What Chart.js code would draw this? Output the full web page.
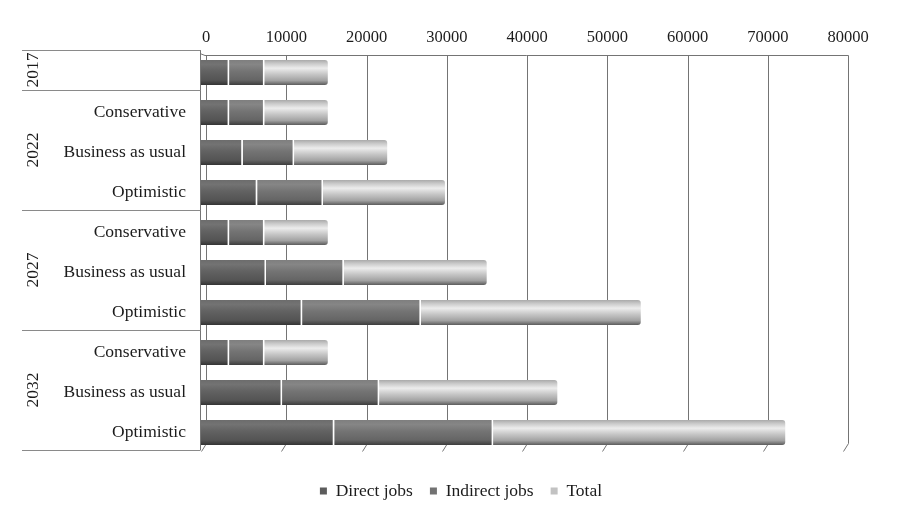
<!DOCTYPE html>
<html>
<head>
<meta charset="utf-8">
<script src="https://cdn.jsdelivr.net/npm/chart.js@4/dist/chart.umd.min.js"></script>
<style>
  html, body { margin: 0; padding: 0; background: #ffffff; }
  #wrap { width: 903px; height: 515px; }
</style>
</head>
<body>
<div id="wrap"><canvas id="jobs" width="903" height="515"></canvas></div>
<script>
// Scenario rows (top to bottom) and the year each block of rows belongs to
const scenarios = ['', 'Conservative', 'Business as usual', 'Optimistic',
                   'Conservative', 'Business as usual', 'Optimistic',
                   'Conservative', 'Business as usual', 'Optimistic'];
const years = ['2017', '2022', '2027', '2032'];
const yearSpans = [1, 3, 3, 3];

// Jobs per row
const directJobs   = [3500, 3500, 5200, 7000, 3500,  8100, 12600, 3500, 10100, 16600];
const indirectJobs = [4400, 4400, 6400, 8200, 4400,  9700, 14800, 4400, 12100, 19800];
const totalJobs    = [7900, 7900, 11600, 15200, 7900, 17800, 27400, 7900, 22200, 36400];

// Value axis ticks
const xTicks = [0, 10000, 20000, 30000, 40000, 50000, 60000, 70000, 80000];

const SERIF = "'Liberation Serif', 'Times New Roman', serif";
const TEXT = '#1c1c1c';
const LINE = '#747474';
const DEPTH = 5;          // oblique offset of the back wall
const BAR_FRAC = 0.63;

// Cylinder-like shading for each series
const shades = {
  direct:   { solid: '#5c5c5c', stops: [[0, '#6c6c6c'], [0.18, '#737373'], [0.45, '#626262'], [0.8, '#545454'], [1, '#333333']] },
  indirect: { solid: '#727272', stops: [[0, '#7e7e7e'], [0.18, '#868686'], [0.45, '#747474'], [0.8, '#656565'], [1, '#3c3c3c']] },
  total:    { solid: '#c2c2c2', stops: [[0, '#a9a9a9'], [0.15, '#cbcbcb'], [0.33, '#ececec'], [0.55, '#c9c9c9'], [0.82, '#a2a2a2'], [1, '#5a5a5a']] }
};

function cylinder(key) {
  return function (c) {
    const chart = c.chart;
    const area = chart.chartArea;
    if (c.type !== 'data' || !area || !chart.scales.y) return shades[key].solid;
    const yScale = chart.scales.y;
    const center = yScale.getPixelForValue(c.dataIndex);
    const half = (area.height / scenarios.length) * BAR_FRAC / 2;
    const g = chart.ctx.createLinearGradient(0, center - half, 0, center + half);
    shades[key].stops.forEach(([o, col]) => g.addColorStop(o, col));
    return g;
  };
}

// Back wall, gridlines with their slanted feet, and the row/year table on the left
const frame = {
  id: 'frame',
  beforeDatasetsDraw(chart) {
    const { ctx, chartArea: a, scales: { x } } = chart;
    ctx.save();
    ctx.strokeStyle = LINE;
    ctx.lineWidth = 1;
    const top = Math.round(a.top + 2) + 0.5;
    xTicks.forEach(v => {
      const px = Math.round(x.getPixelForValue(v)) + DEPTH + 0.5;
      ctx.beginPath();
      ctx.moveTo(px, top);
      ctx.lineTo(px, a.bottom - 9);
      ctx.lineTo(px - DEPTH, a.bottom - 1);
      ctx.stroke();
    });
    const last = Math.round(x.getPixelForValue(xTicks[xTicks.length - 1])) + DEPTH + 0.5;
    ctx.beginPath();
    ctx.moveTo(a.left - 1, top - 2);
    ctx.lineTo(a.left + DEPTH - 1, top);
    ctx.lineTo(last, top);
    ctx.stroke();
    ctx.restore();
  },
  afterDraw(chart) {
    const { ctx, chartArea: a, scales: { y } } = chart;
    const rowH = a.height / scenarios.length;
    const shift = 2.5;
    const left = 22;
    const wallX = Math.round(a.left) - 0.5;
    ctx.save();
    ctx.strokeStyle = LINE;
    ctx.lineWidth = 1;
    // left wall of the plot
    ctx.beginPath();
    ctx.moveTo(wallX, a.top - shift);
    ctx.lineTo(wallX, a.bottom - shift);
    ctx.stroke();
    // group separators
    let idx = 0;
    const bounds = [y.getPixelForValue(0) - rowH / 2 - shift];
    yearSpans.forEach(n => {
      idx += n;
      bounds.push(y.getPixelForValue(idx - 1) + rowH / 2 - shift);
    });
    ctx.strokeStyle = '#8a8a8a';
    bounds.forEach(b => {
      const yy = Math.round(b) + 0.5;
      ctx.beginPath();
      ctx.moveTo(left, yy);
      ctx.lineTo(wallX, yy);
      ctx.stroke();
    });
    ctx.fillStyle = TEXT;
    ctx.font = '17.5px ' + SERIF;
    ctx.textBaseline = 'middle';
    // scenario labels, right-aligned against the plot
    ctx.textAlign = 'right';
    scenarios.forEach((s, i) => {
      if (s) ctx.fillText(s, a.left - 15, y.getPixelForValue(i));
    });
    // year labels, rotated
    ctx.textAlign = 'center';
    years.forEach((yr, i) => {
      const yc = (bounds[i] + bounds[i + 1]) / 2;
      ctx.save();
      ctx.translate(33, yc);
      ctx.rotate(-Math.PI / 2);
      ctx.fillText(yr, 0, 0);
      ctx.restore();
    });
    ctx.restore();
  }
};

new Chart(document.getElementById('jobs'), {
  type: 'bar',
  data: {
    labels: scenarios,
    datasets: [
      { label: 'Direct jobs', data: directJobs, backgroundColor: cylinder('direct'),
        borderColor: '#ffffff', borderWidth: { top: 0, bottom: 0, left: 0, right: 1.5 }, borderSkipped: false },
      { label: 'Indirect jobs', data: indirectJobs, backgroundColor: cylinder('indirect'),
        borderColor: '#ffffff', borderWidth: { top: 0, bottom: 0, left: 0, right: 1.5 }, borderSkipped: false },
      { label: 'Total', data: totalJobs, backgroundColor: cylinder('total'),
        borderWidth: 0, borderRadius: 3 }
    ]
  },
  options: {
    indexAxis: 'y',
    responsive: false,
    animation: false,
    devicePixelRatio: 1,
    datasets: { bar: { barPercentage: BAR_FRAC, categoryPercentage: 1 } },
    layout: { padding: { left: 79, top: 0, right: 60, bottom: 5.25 } },
    scales: {
      x: {
        position: 'top',
        stacked: true,
        min: 0,
        max: 80000,
        afterBuildTicks: s => { s.ticks = xTicks.map(v => ({ value: v })); },
        afterFit: s => { s.height = 52.5; },
        grid: { display: false, drawTicks: false },
        border: { display: false },
        ticks: {
          padding: 4.5,
          labelOffset: DEPTH,
          maxRotation: 0,
          autoSkip: false,
          color: TEXT,
          font: { family: SERIF, size: 16.5 },
          callback: v => String(v)
        }
      },
      y: {
        stacked: true,
        afterFit: s => { s.width = 122; },
        grid: { display: false, drawTicks: false },
        border: { display: false },
        ticks: { display: false }
      }
    },
    plugins: {
      tooltip: { enabled: false },
      title: {
        display: true,
        text: '',
        position: 'bottom',
        weight: 500,
        font: { size: 8, lineHeight: 1 },
        padding: { top: 4.75, bottom: 0 }
      },
      legend: {
        position: 'bottom',
        labels: {
          boxWidth: 7,
          boxHeight: 7,
          padding: 17,
          color: TEXT,
          font: { family: SERIF, size: 17.5 },
          generateLabels: chart => chart.data.datasets.map((ds, i) => ({
            text: ds.label,
            fillStyle: [shades.direct.solid, shades.indirect.solid, shades.total.solid][i],
            strokeStyle: 'rgba(0,0,0,0)',
            lineWidth: 0,
            datasetIndex: i,
            hidden: false,
            fontColor: TEXT
          }))
        }
      }
    }
  },
  plugins: [frame]
});
</script>
</body>
</html>
